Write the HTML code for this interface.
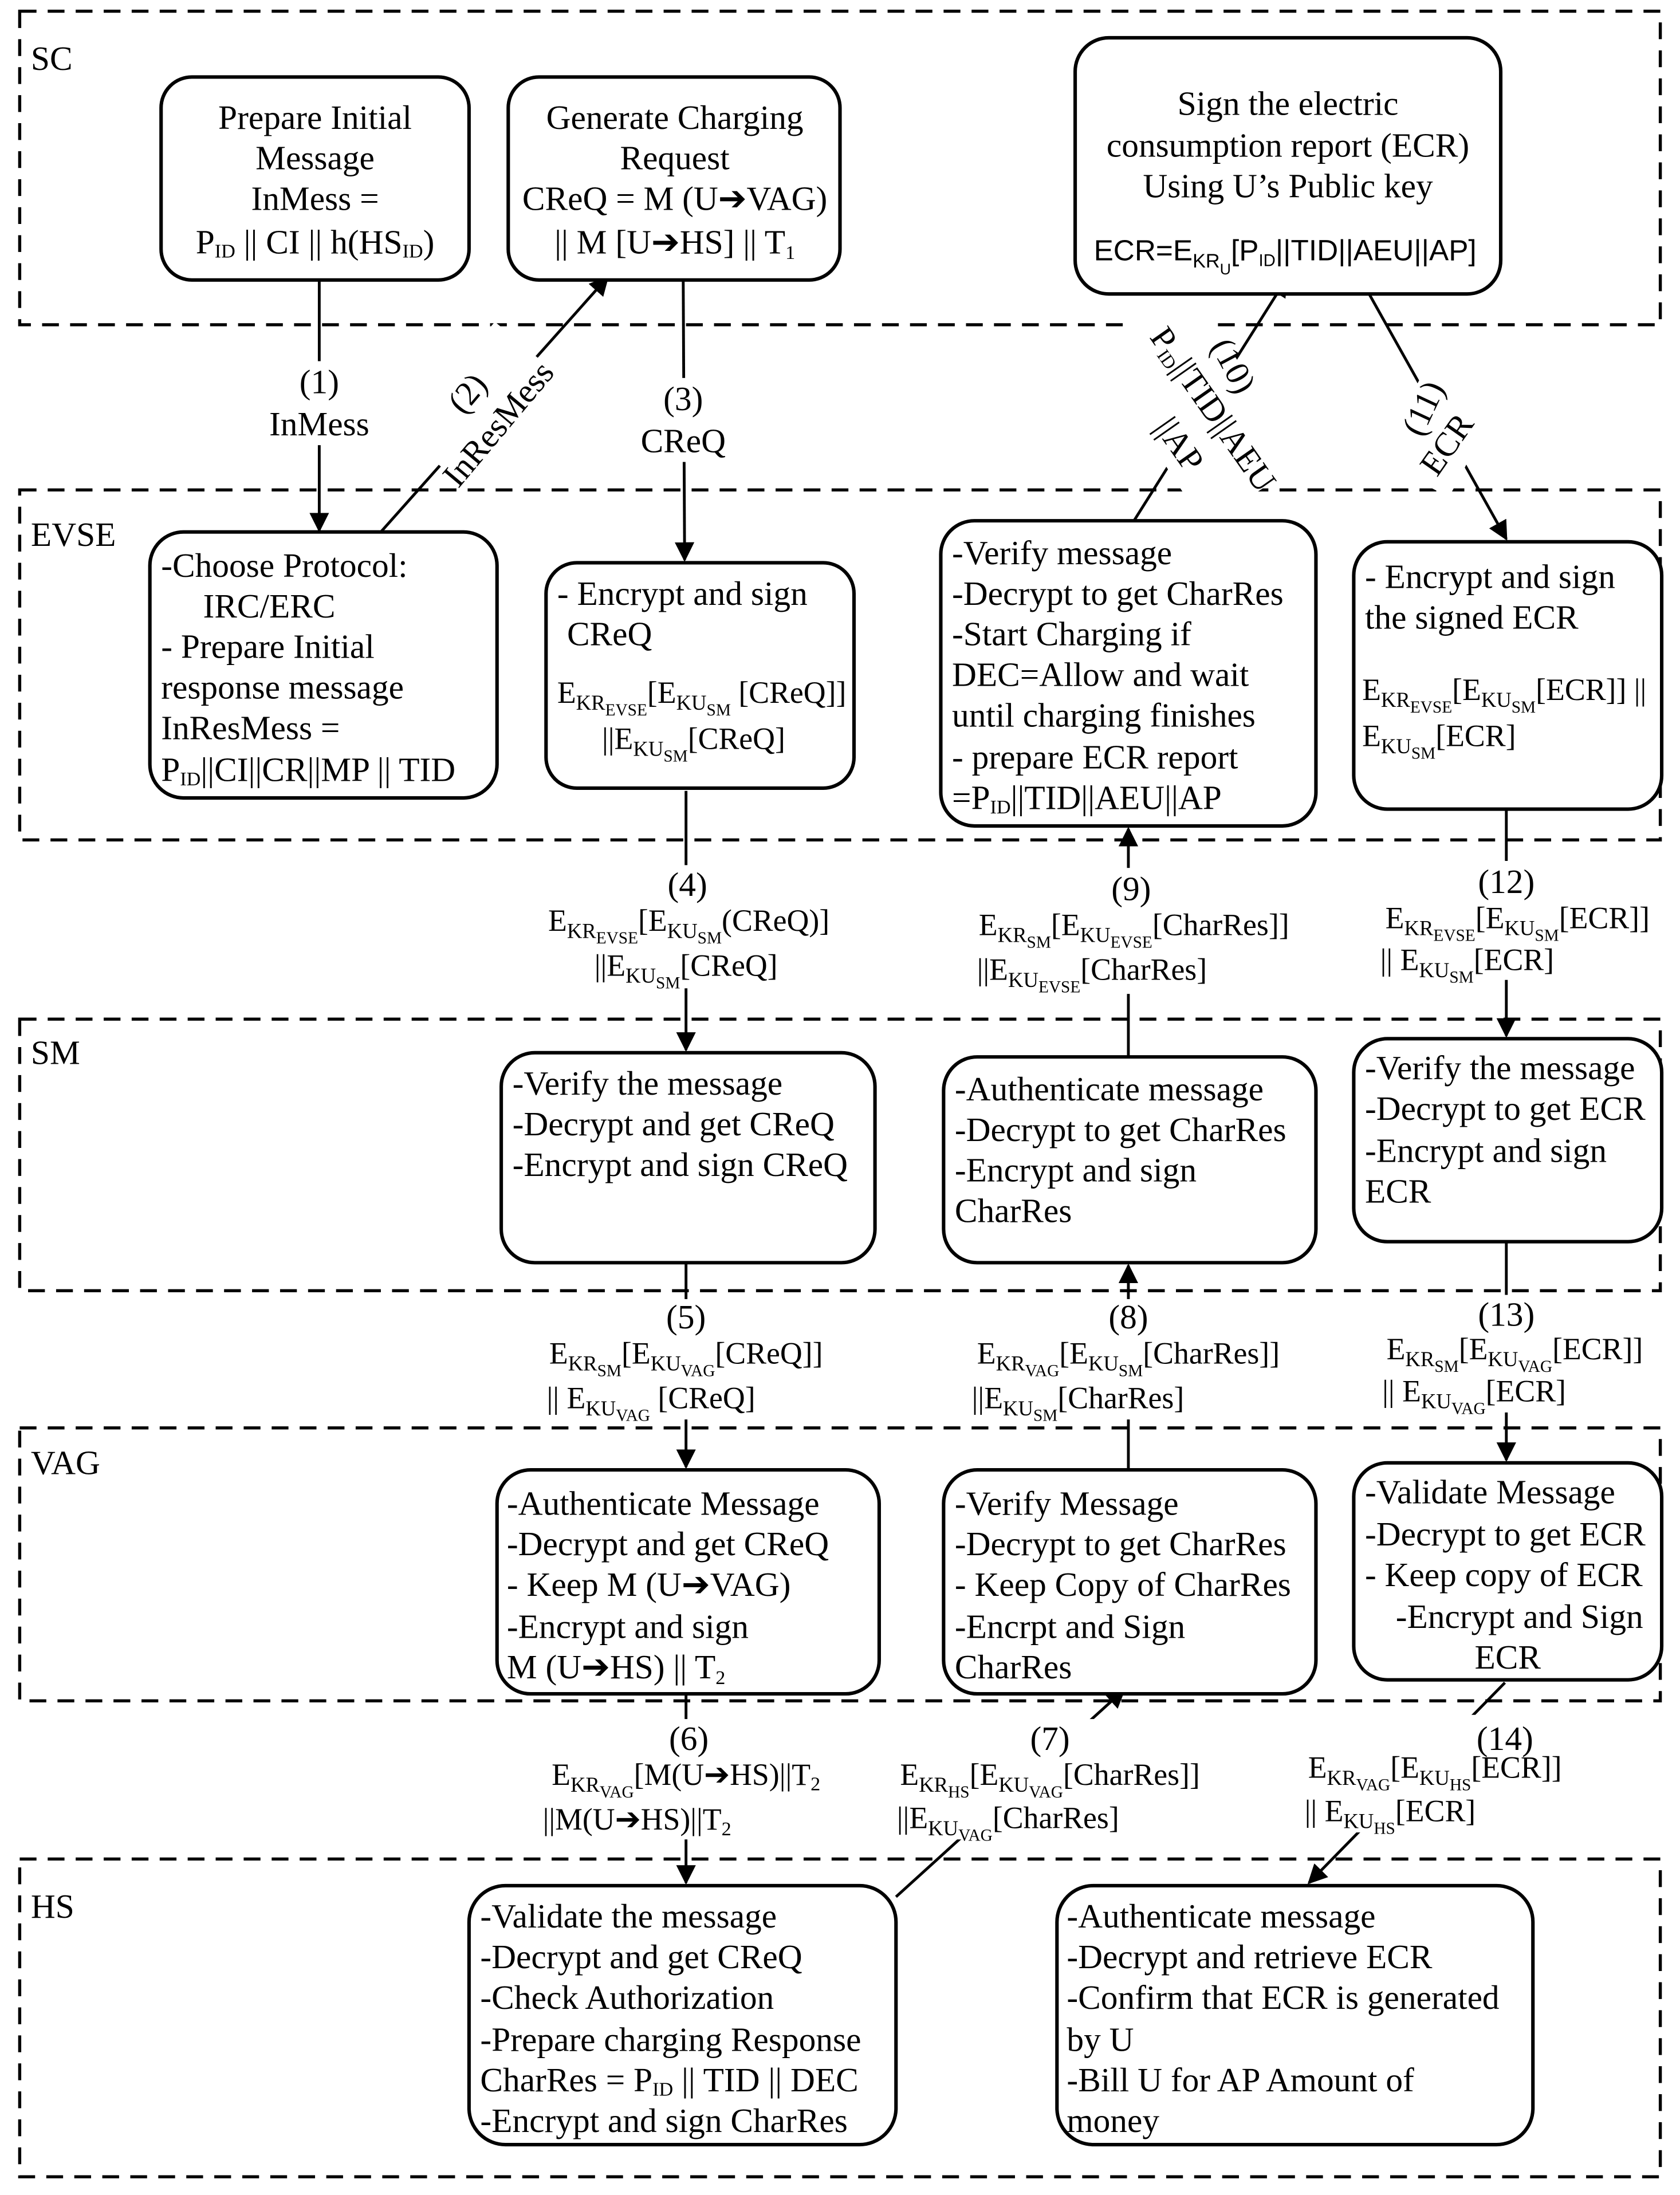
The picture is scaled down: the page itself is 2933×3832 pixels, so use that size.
<!DOCTYPE html>
<html><head><meta charset="utf-8"><style>
html,body{margin:0;padding:0;background:#fff}
svg{display:block}
text{font-family:"Liberation Serif",serif;font-size:24.3px;fill:#000}
.c{text-anchor:middle}
.f{font-size:22px}
</style></head><body>
<svg width="2933" height="3832" viewBox="0 0 1200 1568" xmlns="http://www.w3.org/2000/svg">
<defs><marker id="a" viewBox="0 0 10 10" refX="9" refY="5" markerWidth="7" markerHeight="7" orient="auto-start-reverse"><path d="M0,0 L10,5 L0,10 z" fill="#000"/></marker></defs>
<g fill="none" stroke="#000" stroke-width="2.2" stroke-dasharray="12 8">
<rect x="14" y="8" width="1172" height="224"/>
<rect x="14" y="350" width="1172" height="250"/>
<rect x="14" y="728" width="1172" height="194"/>
<rect x="14" y="1020" width="1172" height="195"/>
<rect x="14" y="1328" width="1172" height="227"/>
</g>
<text x="22" y="50" font-size="25">SC</text>
<text x="22" y="390" font-size="25">EVSE</text>
<text x="22" y="760" font-size="25">SM</text>
<text x="22" y="1053" font-size="25">VAG</text>
<text x="22" y="1370" font-size="25">HS</text>
<g stroke="#000" stroke-width="2" fill="none">
<line x1="228" y1="200" x2="228" y2="379" marker-end="url(#a)"/>
<line x1="272" y1="380" x2="434" y2="198" marker-end="url(#a)"/>
<line x1="488" y1="200" x2="489" y2="400" marker-end="url(#a)"/>
<line x1="810" y1="372" x2="919" y2="199" marker-end="url(#a)"/>
<line x1="978" y1="210" x2="1076" y2="385" marker-end="url(#a)"/>
<line x1="490" y1="565" x2="490" y2="750" marker-end="url(#a)"/>
<line x1="806" y1="755" x2="806" y2="592" marker-end="url(#a)"/>
<line x1="1076" y1="578" x2="1076" y2="740" marker-end="url(#a)"/>
<line x1="490" y1="902" x2="490" y2="1048" marker-end="url(#a)"/>
<line x1="806" y1="1050" x2="806" y2="904" marker-end="url(#a)"/>
<line x1="1076" y1="887" x2="1076" y2="1043" marker-end="url(#a)"/>
<line x1="490" y1="1210" x2="490" y2="1345" marker-end="url(#a)"/>
<line x1="640" y1="1355" x2="803" y2="1207" marker-end="url(#a)"/>
<line x1="1075" y1="1202" x2="935" y2="1345" marker-end="url(#a)"/>
</g>
<g fill="#fff">
<rect x="193" y="258" width="70" height="60"/>
<g transform="translate(343,289) rotate(-50)"><rect x="-52" y="-30" width="104" height="56"/></g>
<rect x="453" y="270" width="70" height="60"/>
<g transform="translate(855,290) rotate(57)"><rect x="-75" y="-42" width="150" height="84"/></g>
<g transform="translate(1030,305) rotate(-62)"><rect x="-42" y="-30" width="84" height="58"/></g>
<rect x="385" y="618" width="215" height="88"/>
<rect x="690" y="620" width="240" height="90"/>
<rect x="978" y="615" width="212" height="85"/>
<rect x="383" y="928" width="215" height="86"/>
<rect x="685" y="928" width="240" height="86"/>
<rect x="978" y="925" width="212" height="84"/>
<rect x="378" y="1228" width="222" height="86"/>
<rect x="628" y="1228" width="245" height="86"/>
<rect x="925" y="1225" width="205" height="84"/>
</g>
<g fill="#fff" stroke="#000" stroke-width="2.5">
<rect x="115" y="55" width="220" height="145" rx="22"/>
<rect x="363" y="55" width="237" height="145" rx="22"/>
<rect x="768" y="27" width="304" height="183" rx="24"/>
<rect x="107" y="380" width="248" height="190" rx="24"/>
<rect x="390" y="402" width="220" height="161" rx="22"/>
<rect x="672" y="372" width="268" height="218" rx="24"/>
<rect x="967" y="387" width="220" height="191" rx="24"/>
<rect x="358" y="752" width="267" height="150" rx="24"/>
<rect x="674" y="755" width="266" height="147" rx="24"/>
<rect x="967" y="742" width="220" height="145" rx="24"/>
<rect x="355" y="1050" width="273" height="160" rx="24"/>
<rect x="674" y="1050" width="266" height="160" rx="24"/>
<rect x="967" y="1045" width="220" height="155" rx="24"/>
<rect x="335" y="1347" width="305" height="185" rx="26"/>
<rect x="755" y="1347" width="340" height="185" rx="26"/>
</g>
<text class="c" x="225" y="92">Prepare Initial</text>
<text class="c" x="225" y="121">Message</text>
<text class="c" x="225" y="150">InMess =</text>
<text class="c" x="225" y="181">P<tspan font-size="14" dy="3">ID</tspan><tspan dy="-3"> || CI || h(HS</tspan><tspan font-size="14" dy="3">ID</tspan><tspan dy="-3">)</tspan></text>
<text class="c" x="482" y="92">Generate Charging</text>
<text class="c" x="482" y="121">Request</text>
<text class="c" x="482" y="150">CReQ = M (U➔VAG)</text>
<text class="c" x="482" y="181">|| M [U➔HS] || T<tspan font-size="14" dy="4">1</tspan></text>
<text class="c" x="920" y="82">Sign the electric</text>
<text class="c" x="920" y="112">consumption report (ECR)</text>
<text class="c" x="920" y="141">Using U’s Public key</text>
<text class="c" x="918" y="186" style="font-family:'Liberation Sans',sans-serif;font-size:21px">ECR=E<tspan font-size="14" dy="5">KR</tspan><tspan font-size="11" dy="5">U</tspan><tspan dy="-10">[P</tspan><tspan font-size="12" dy="4">ID</tspan><tspan dy="-4">||TID||AEU||AP]</tspan></text>
<text class="c" x="228" y="281">(1)</text>
<text class="c" x="228" y="311">InMess</text>
<text class="c" transform="translate(340,286) rotate(-50)">(2)</text>
<text class="c" transform="translate(362,308) rotate(-50)">InResMess</text>
<text class="c" x="488" y="293">(3)</text>
<text class="c" x="488" y="323">CReQ</text>
<text class="c" transform="translate(874,265) rotate(62)">(10)</text>
<text class="c" transform="translate(860,297) rotate(55)">P<tspan font-size="13" dy="3">ID</tspan><tspan dy="-3">||TID||AEU</tspan></text>
<text class="c" transform="translate(836,322) rotate(55)">||AP</text>
<text class="c" transform="translate(1024,295) rotate(-65)">(11)</text>
<text class="c" transform="translate(1040,322) rotate(-55)">ECR</text>
<text x="115" y="412">-Choose Protocol:</text>
<text x="145" y="441">IRC/ERC</text>
<text x="115" y="470">- Prepare Initial</text>
<text x="115" y="499">response message</text>
<text x="115" y="528">InResMess =</text>
<text x="115" y="558">P<tspan font-size="14" dy="3">ID</tspan><tspan dy="-3">||CI||CR||MP || TID</tspan></text>
<text x="398" y="432">- Encrypt and sign</text>
<text x="405" y="461">CReQ</text>
<text class="f" x="398" y="502">E<tspan font-size="15" dy="5">KR</tspan><tspan font-size="12" dy="4">EVSE</tspan><tspan dy="-9">[E</tspan><tspan font-size="15" dy="5">KU</tspan><tspan font-size="12" dy="4">SM</tspan><tspan dy="-9"> [CReQ]]</tspan></text>
<text class="f" x="430" y="535">||E<tspan font-size="15" dy="5">KU</tspan><tspan font-size="12" dy="4">SM</tspan><tspan dy="-9">[CReQ]</tspan></text>
<text x="680" y="403">-Verify message</text>
<text x="680" y="432">-Decrypt to get CharRes</text>
<text x="680" y="461">-Start Charging if</text>
<text x="680" y="490">DEC=Allow and wait</text>
<text x="680" y="519">until charging finishes</text>
<text x="680" y="549">- prepare ECR report</text>
<text x="680" y="578">=P<tspan font-size="14" dy="3">ID</tspan><tspan dy="-3">||TID||AEU||AP</tspan></text>
<text x="975" y="420">- Encrypt and sign</text>
<text x="975" y="449">the signed ECR</text>
<text class="f" x="973" y="500">E<tspan font-size="15" dy="5">KR</tspan><tspan font-size="12" dy="4">EVSE</tspan><tspan dy="-9">[E</tspan><tspan font-size="15" dy="5">KU</tspan><tspan font-size="12" dy="4">SM</tspan><tspan dy="-9">[ECR]] ||</tspan></text>
<text class="f" x="973" y="533">E<tspan font-size="15" dy="5">KU</tspan><tspan font-size="12" dy="4">SM</tspan><tspan dy="-9">[ECR]</tspan></text>
<text class="c" x="491" y="640">(4)</text>
<text class="c f" x="492" y="665">E<tspan font-size="15" dy="5">KR</tspan><tspan font-size="12" dy="4">EVSE</tspan><tspan dy="-9">[E</tspan><tspan font-size="15" dy="5">KU</tspan><tspan font-size="12" dy="4">SM</tspan><tspan dy="-9">(CReQ)]</tspan></text>
<text class="c f" x="490" y="697">||E<tspan font-size="15" dy="5">KU</tspan><tspan font-size="12" dy="4">SM</tspan><tspan dy="-9">[CReQ]</tspan></text>
<text class="c" x="808" y="643">(9)</text>
<text class="c f" x="810" y="668">E<tspan font-size="15" dy="5">KR</tspan><tspan font-size="12" dy="4">SM</tspan><tspan dy="-9">[E</tspan><tspan font-size="15" dy="5">KU</tspan><tspan font-size="12" dy="4">EVSE</tspan><tspan dy="-9">[CharRes]]</tspan></text>
<text class="c f" x="780" y="700">||E<tspan font-size="15" dy="5">KU</tspan><tspan font-size="12" dy="4">EVSE</tspan><tspan dy="-9">[CharRes]</tspan></text>
<text class="c" x="1076" y="638">(12)</text>
<text class="c f" x="1084" y="663">E<tspan font-size="15" dy="5">KR</tspan><tspan font-size="12" dy="4">EVSE</tspan><tspan dy="-9">[E</tspan><tspan font-size="15" dy="5">KU</tspan><tspan font-size="12" dy="4">SM</tspan><tspan dy="-9">[ECR]]</tspan></text>
<text class="c f" x="1048" y="693">|| E<tspan font-size="15" dy="5">KU</tspan><tspan font-size="12" dy="4">SM</tspan><tspan dy="-9">[ECR]</tspan></text>
<text x="366" y="782">-Verify the message</text>
<text x="366" y="811">-Decrypt and get CReQ</text>
<text x="366" y="840">-Encrypt and sign  CReQ</text>
<text x="682" y="786">-Authenticate message</text>
<text x="682" y="815">-Decrypt to get CharRes</text>
<text x="682" y="844">-Encrypt and sign</text>
<text x="682" y="873">CharRes</text>
<text x="975" y="771">-Verify the message</text>
<text x="975" y="800">-Decrypt to get ECR</text>
<text x="975" y="830">-Encrypt and sign</text>
<text x="975" y="859">ECR</text>
<text class="c" x="490" y="949">(5)</text>
<text class="c f" x="490" y="974">E<tspan font-size="15" dy="5">KR</tspan><tspan font-size="12" dy="4">SM</tspan><tspan dy="-9">[E</tspan><tspan font-size="15" dy="5">KU</tspan><tspan font-size="12" dy="4">VAG</tspan><tspan dy="-9">[CReQ]]</tspan></text>
<text class="c f" x="465" y="1006">|| E<tspan font-size="15" dy="5">KU</tspan><tspan font-size="12" dy="4">VAG</tspan><tspan dy="-9"> [CReQ]</tspan></text>
<text class="c" x="806" y="949">(8)</text>
<text class="c f" x="806" y="974">E<tspan font-size="15" dy="5">KR</tspan><tspan font-size="12" dy="4">VAG</tspan><tspan dy="-9">[E</tspan><tspan font-size="15" dy="5">KU</tspan><tspan font-size="12" dy="4">SM</tspan><tspan dy="-9">[CharRes]]</tspan></text>
<text class="c f" x="770" y="1006">||E<tspan font-size="15" dy="5">KU</tspan><tspan font-size="12" dy="4">SM</tspan><tspan dy="-9">[CharRes]</tspan></text>
<text class="c" x="1076" y="947">(13)</text>
<text class="c f" x="1082" y="971">E<tspan font-size="15" dy="5">KR</tspan><tspan font-size="12" dy="4">SM</tspan><tspan dy="-9">[E</tspan><tspan font-size="15" dy="5">KU</tspan><tspan font-size="12" dy="4">VAG</tspan><tspan dy="-9">[ECR]]</tspan></text>
<text class="c f" x="1053" y="1001">|| E<tspan font-size="15" dy="5">KU</tspan><tspan font-size="12" dy="4">VAG</tspan><tspan dy="-9">[ECR]</tspan></text>
<text x="362" y="1082">-Authenticate Message</text>
<text x="362" y="1111">-Decrypt and get CReQ</text>
<text x="362" y="1140">- Keep M (U➔VAG)</text>
<text x="362" y="1170">-Encrypt and sign</text>
<text x="362" y="1199">M (U➔HS) || T<tspan font-size="14" dy="4">2</tspan></text>
<text x="682" y="1082">-Verify Message</text>
<text x="682" y="1111">-Decrypt to get CharRes</text>
<text x="682" y="1140">- Keep Copy of CharRes</text>
<text x="682" y="1170">-Encrpt and Sign</text>
<text x="682" y="1199">CharRes</text>
<text x="975" y="1074">-Validate Message</text>
<text x="975" y="1104">-Decrypt to get ECR</text>
<text x="975" y="1133">- Keep copy of ECR</text>
<text x="997" y="1163">-Encrypt and Sign</text>
<text class="c" x="1077" y="1192">ECR</text>
<text class="c" x="492" y="1250">(6)</text>
<text class="c f" x="490" y="1275">E<tspan font-size="15" dy="5">KR</tspan><tspan font-size="12" dy="4">VAG</tspan><tspan dy="-9">[M(U➔HS)||T</tspan><tspan font-size="14" dy="4">2</tspan></text>
<text class="c f" x="455" y="1307">||M(U➔HS)||T<tspan font-size="14" dy="4">2</tspan></text>
<text class="c" x="750" y="1250">(7)</text>
<text class="c f" x="750" y="1275">E<tspan font-size="15" dy="5">KR</tspan><tspan font-size="12" dy="4">HS</tspan><tspan dy="-9">[E</tspan><tspan font-size="15" dy="5">KU</tspan><tspan font-size="12" dy="4">VAG</tspan><tspan dy="-9">[CharRes]]</tspan></text>
<text class="c f" x="720" y="1306">||E<tspan font-size="15" dy="5">KU</tspan><tspan font-size="12" dy="4">VAG</tspan><tspan dy="-9">[CharRes]</tspan></text>
<text class="c" x="1075" y="1250">(14)</text>
<text class="c f" x="1025" y="1270">E<tspan font-size="15" dy="5">KR</tspan><tspan font-size="12" dy="4">VAG</tspan><tspan dy="-9">[E</tspan><tspan font-size="15" dy="5">KU</tspan><tspan font-size="12" dy="4">HS</tspan><tspan dy="-9">[ECR]]</tspan></text>
<text class="c f" x="993" y="1301">|| E<tspan font-size="15" dy="5">KU</tspan><tspan font-size="12" dy="4">HS</tspan><tspan dy="-9">[ECR]</tspan></text>
<text x="343" y="1377">-Validate the message</text>
<text x="343" y="1406">-Decrypt and get CReQ</text>
<text x="343" y="1435">-Check Authorization</text>
<text x="343" y="1465">-Prepare charging Response</text>
<text x="343" y="1494"> CharRes = P<tspan font-size="14" dy="3">ID</tspan><tspan dy="-3"> || TID || DEC</tspan></text>
<text x="343" y="1523">-Encrypt and sign CharRes</text>
<text x="762" y="1377">-Authenticate message</text>
<text x="762" y="1406">-Decrypt and retrieve ECR</text>
<text x="762" y="1435">-Confirm that ECR is generated</text>
<text x="762" y="1465">by U</text>
<text x="762" y="1494">-Bill U for AP Amount of</text>
<text x="762" y="1523">money</text>
</svg>
</body></html>
